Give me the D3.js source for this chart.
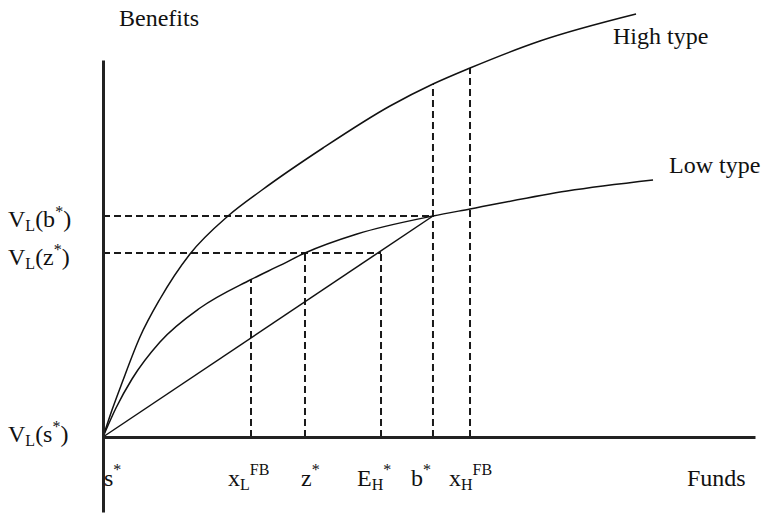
<!DOCTYPE html>
<html>
<head>
<meta charset="utf-8">
<script src="https://cdn.jsdelivr.net/npm/d3@7"></script>
<style>
  html, body { margin: 0; padding: 0; background: #fff; }
  svg { display: block; }
</style>
</head>
<body>
<svg id="chart" width="764" height="514"></svg>
<script>
// ---- data (abstract funds / benefits units) ----
const lowX  = [0, 0.199, 0.445, 0.874, 1.488, 2.255, 2.715, 3.098, 3.896, 5.061, 5.629, 7.117, 8.436];
const lowY  = [0, 0.725, 1.45, 2.375, 3.225, 3.925, 4.29, 4.6, 5.075, 5.525, 5.7, 6.15, 6.425];
const highX = [0, 0.138, 0.291, 0.567, 0.874, 1.334, 1.917, 2.439, 3.374, 4.402, 5.061, 5.629, 6.702, 8.175];
const highY = [0, 0.675, 1.35, 2.5, 3.45, 4.575, 5.525, 6.175, 7.225, 8.275, 8.825, 9.225, 9.9, 10.575];

// straight line from s* to (b*, V_L(b*))
const rayX = [0, 5.061];
const rayY = [0, 5.525];

// vertical dashed guides: position on funds axis and top value
const guideX   = [2.27, 3.098, 4.264, 5.061, 5.629];
const guideTop = [3.94, 4.6, 4.6, 8.825, 9.225];

// horizontal dashed guides: level and right end
const levelY   = [5.525, 4.6];
const levelEnd = [5.061, 4.264];

// x-axis tick labels: [main, subscript, superscript]
const xTickVals   = [0, 2.27, 3.098, 4.264, 5.061, 5.629];
const xTickLabels = [["s","","*"],["x","L","FB"],["z","","*"],["E","H","*"],["b","","*"],["x","H","FB"]];

// y-axis tick labels
const yTickVals   = [5.525, 4.6, 0];
const yTickLabels = [["V","L","(b","*",")"],["V","L","(z","*",")"],["V","L","(s","*",")"]];

const seriesNames = ["High type", "Low type"];

// ---- layout ----
const FONT = "Liberation Serif, Times New Roman, serif";
const svg = d3.select("#chart");
const x = d3.scaleLinear().domain([0, 10]).range([103, 755]);
const y = d3.scaleLinear().domain([-1.875, 9.425]).range([512, 60]);

// dashed guides
const dash = "7,4";
svg.append("g").selectAll("line").data(guideX).join("line")
  .attr("x1", d => x(d)).attr("x2", d => x(d))
  .attr("y1", y(0)).attr("y2", (d, i) => y(guideTop[i]))
  .attr("stroke", "#1a1a1a").attr("stroke-width", 2).attr("stroke-dasharray", dash);
svg.append("g").selectAll("line").data(levelY).join("line")
  .attr("x1", x(0)).attr("x2", (d, i) => x(levelEnd[i]))
  .attr("y1", d => y(d)).attr("y2", d => y(d))
  .attr("stroke", "#1a1a1a").attr("stroke-width", 2).attr("stroke-dasharray", dash);

// curves
const line = d3.line().x(d => x(d[0])).y(d => y(d[1])).curve(d3.curveMonotoneX);
const lowPts  = lowX.map((v, i) => [v, lowY[i]]);
const highPts = highX.map((v, i) => [v, highY[i]]);
const rayPts  = rayX.map((v, i) => [v, rayY[i]]);
[highPts, lowPts].forEach(p => svg.append("path").attr("d", line(p))
  .attr("fill", "none").attr("stroke", "#111").attr("stroke-width", 1.5));
svg.append("path").attr("d", d3.line().x(d => x(d[0])).y(d => y(d[1]))(rayPts))
  .attr("fill", "none").attr("stroke", "#111").attr("stroke-width", 1.5);

// axes
const gy = svg.append("g").attr("transform", `translate(${x(0)},0)`)
  .call(d3.axisLeft(y).tickValues([]).tickSizeOuter(0));
gy.select(".domain").attr("stroke", "#222").attr("stroke-width", 3);
const gx = svg.append("g").attr("transform", `translate(0,${y(0)})`)
  .call(d3.axisBottom(x).tickValues([]).tickSizeOuter(0));
gx.select(".domain").attr("stroke", "#222").attr("stroke-width", 3);

function label(px, py) {
  return svg.append("text").attr("x", px).attr("y", py)
    .attr("font-family", FONT).attr("font-size", 24).attr("fill", "#111");
}

// series labels
const hEnd = highPts[highPts.length - 1], lEnd = lowPts[lowPts.length - 1];
label(x(hEnd[0]) - 23, y(hEnd[1]) + 30).text(seriesNames[0]);
label(x(lEnd[0]) + 16, y(lEnd[1]) - 7).text(seriesNames[1]);

// axis titles
label(x(0) + 16, 26).text("Benefits");
label(x(10) - 68, 486).text("Funds");

// x tick labels
const xDx = [1, -23, -4, -24, -22, -21];
xTickVals.forEach((v, i) => {
  const [m, sub, sup] = xTickLabels[i];
  const t = label(x(v) + xDx[i], 486);
  t.append("tspan").text(m);
  let shift = 0;
  if (sub) { t.append("tspan").attr("font-size", 16).attr("dy", 4).text(sub); shift = 4; }
  if (sup) { t.append("tspan").attr("font-size", 16).attr("dy", -shift - 11).text(sup); }
});

// y tick labels
const yDy = [11, 12, 5];
yTickVals.forEach((v, i) => {
  const [m, sub, mid, sup, end] = yTickLabels[i];
  const t = label(8, y(v) + yDy[i]);
  t.append("tspan").text(m);
  t.append("tspan").attr("font-size", 16).attr("dy", 4).text(sub);
  t.append("tspan").attr("dy", -4).text(mid);
  t.append("tspan").attr("font-size", 16).attr("dy", -10).text(sup);
  t.append("tspan").attr("dy", 10).text(end);
});
</script>
</body>
</html>
